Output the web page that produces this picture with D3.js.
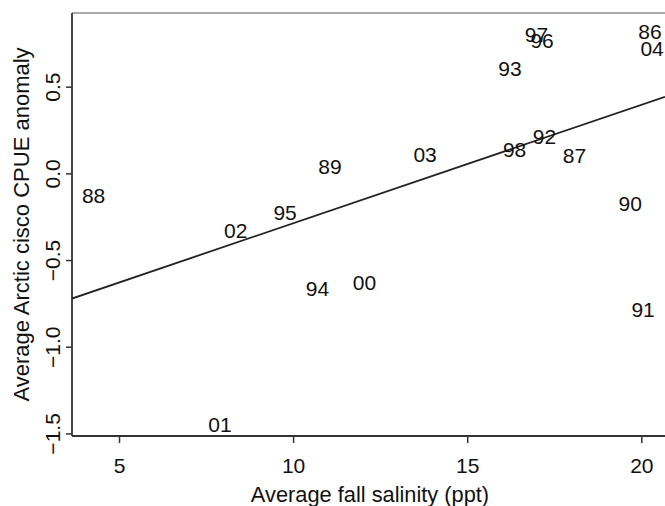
<!DOCTYPE html>
<html>
<head>
<meta charset="utf-8">
<script src="https://cdn.jsdelivr.net/npm/d3@7/dist/d3.min.js"></script>
<style>
  html, body { margin: 0; padding: 0; background: #fff; }
  svg { display: block; }
  text { font-family: "Liberation Sans", Arial, sans-serif; fill: #111; }
</style>
</head>
<body>
<svg id="chart" width="665" height="506"></svg>
<script>
// ---- data ----
const years    = ["88","01","89","03","95","02","94","00","97","96","93","86","04","98","92","87","90","91"];
const salinity = [4.27, 7.90, 11.06, 13.79, 9.77, 8.35, 10.70, 12.05, 16.99, 17.15, 16.23, 20.25, 20.31, 16.36, 17.22, 18.08, 19.68, 20.05];
const cpue     = [-0.128, -1.450, 0.042, 0.111, -0.223, -0.327, -0.665, -0.628, 0.801, 0.764, 0.608, 0.816, 0.718, 0.137, 0.215, 0.106, -0.174, -0.786];
const fitX = [3.65, 20.68];
const fitY = [-0.722, 0.442];
const xTicks = [5, 10, 15, 20];
const yTicks = [-1.5, -1.0, -0.5, 0.0, 0.5];
const xTitle = "Average fall salinity (ppt)";
const yTitle = "Average Arctic cisco CPUE anomaly";

// ---- layout ----
const pL = 72, pR = 665, pT = 13, pB = 436;
const svg = d3.select("#chart");
const x = d3.scaleLinear().domain([3.65, 20.68]).range([pL, pR]);
const y = d3.scaleLinear().domain([-1.515, 0.925]).range([pB, pT]);

svg.append("defs").append("clipPath").attr("id", "clip")
  .append("rect").attr("x", pL).attr("y", pT).attr("width", pR - pL).attr("height", pB - pT);

// top border
svg.append("line").attr("x1", pL).attr("x2", pR).attr("y1", pT).attr("y2", pT)
  .attr("stroke", "#555").attr("stroke-width", 1.2);

// y axis
const yAxis = svg.append("g").attr("transform", `translate(${pL},0)`)
  .call(d3.axisLeft(y).tickValues(yTicks).tickSize(6).tickSizeOuter(0).tickFormat(d3.format(".1f")));
yAxis.select(".domain").attr("stroke", "#333").attr("stroke-width", 1.8).attr("d", `M0,${pT}V${pB}`);
yAxis.selectAll(".tick line").attr("stroke", "#333").attr("stroke-width", 1.5);
yAxis.selectAll(".tick text")
  .attr("x", null).attr("dy", null)
  .attr("text-anchor", "middle")
  .attr("transform", "translate(-12,0) rotate(-90)")
  .style("font-size", "21px").style("font-family", "'Liberation Sans', Arial, sans-serif").attr("fill", "#111");

// x axis
const xAxis = svg.append("g").attr("transform", `translate(0,${pB})`)
  .call(d3.axisBottom(x).tickValues(xTicks).tickSize(7).tickSizeOuter(0).tickFormat(d3.format("d")));
xAxis.select(".domain").attr("stroke", "#333").attr("stroke-width", 1.8).attr("d", `M${pL},0H${pR}`);
xAxis.selectAll(".tick line").attr("stroke", "#333").attr("stroke-width", 1.5);
xAxis.selectAll(".tick text")
  .attr("y", 37).attr("dy", null)
  .style("font-size", "21px").style("font-family", "'Liberation Sans', Arial, sans-serif").attr("fill", "#111");

// titles
svg.append("text").attr("x", 370).attr("y", 502).attr("text-anchor", "middle")
  .style("font-size", "21.8px").text(xTitle);
svg.append("text").attr("transform", `translate(29,${(pT + pB) / 2}) rotate(-90)`)
  .attr("text-anchor", "middle").style("font-size", "22px").text(yTitle);

// fit line
const line = d3.line().x(d => x(d[0])).y(d => y(d[1]));
svg.append("path").datum(d3.zip(fitX, fitY)).attr("clip-path", "url(#clip)")
  .attr("d", line).attr("fill", "none").attr("stroke", "#222").attr("stroke-width", 1.8);

// year labels
svg.append("g").selectAll("text").data(d3.range(years.length)).join("text")
  .attr("x", i => x(salinity[i]))
  .attr("y", i => y(cpue[i]))
  .attr("dy", "0.36em")
  .attr("text-anchor", "middle")
  .style("font-size", "21px")
  .text(i => years[i]);
</script>
</body>
</html>
